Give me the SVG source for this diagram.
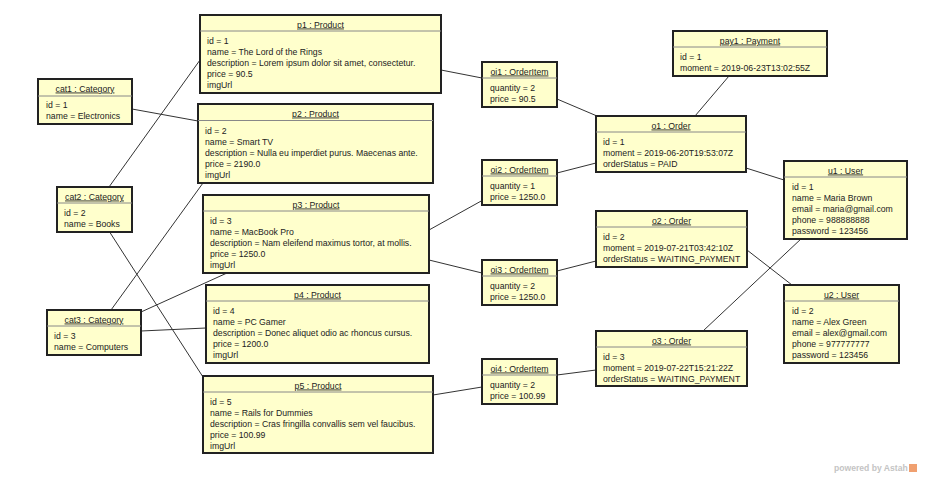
<svg xmlns="http://www.w3.org/2000/svg" width="949" height="493" viewBox="0 0 949 493">
<style>
.box{fill:#FFFFCC;stroke:#222;stroke-width:2}
.sep{stroke:#888;stroke-width:1}
text{font-family:"Liberation Sans",Arial,sans-serif;font-size:8.7px;fill:#222}
.ti{text-anchor:middle;text-decoration:underline}
.ln line{stroke:#333;stroke-width:1}
.pw{font-size:8.6px;font-weight:bold;fill:#c4c4c4}
</style>
<rect width="949" height="493" fill="#fff"/>
<g class="ln" id="connectors">
<line x1="132" y1="109" x2="198" y2="121"/>
<line x1="109" y1="187" x2="200" y2="60"/>
<line x1="109" y1="231" x2="203" y2="377"/>
<line x1="111" y1="310" x2="203" y2="183"/>
<line x1="141" y1="312" x2="227" y2="273"/>
<line x1="141" y1="331" x2="206" y2="328"/>
<line x1="441" y1="70" x2="482" y2="78"/>
<line x1="557" y1="99" x2="597" y2="116"/>
<line x1="729" y1="76" x2="695" y2="116"/>
<line x1="429" y1="230" x2="483" y2="200"/>
<line x1="557" y1="173" x2="596" y2="163"/>
<line x1="429" y1="260" x2="482" y2="273"/>
<line x1="557" y1="271" x2="596" y2="261"/>
<line x1="433" y1="395" x2="482" y2="387"/>
<line x1="557" y1="375" x2="596" y2="370"/>
<line x1="746" y1="168" x2="784" y2="180"/>
<line x1="747" y1="250" x2="792" y2="285"/>
<line x1="703" y1="331" x2="802" y2="238"/>
</g>
<g id="p1"><rect class="box" x="200" y="15" width="241" height="78"/><line class="sep" x1="200" y1="31" x2="441" y2="31"/>
<text class="ti" x="320.5" y="27.5">p1 : Product</text>
<text x="207" y="44">id = 1</text><text x="207" y="55">name = The Lord of the Rings</text><text x="207" y="66">description = Lorem ipsum dolor sit amet, consectetur.</text><text x="207" y="77">price = 90.5</text><text x="207" y="88">imgUrl</text></g>
<g id="p2"><rect class="box" x="198" y="104" width="235" height="79"/><line class="sep" x1="198" y1="120.5" x2="433" y2="120.5"/>
<text class="ti" x="315.5" y="116.5">p2 : Product</text>
<text x="205" y="134">id = 2</text><text x="205" y="145">name = Smart TV</text><text x="205" y="156">description = Nulla eu imperdiet purus. Maecenas ante.</text><text x="205" y="167">price = 2190.0</text><text x="205" y="178">imgUrl</text></g>
<g id="p3"><rect class="box" x="203" y="195" width="226" height="78"/><line class="sep" x1="203" y1="211" x2="429" y2="211"/>
<text class="ti" x="316" y="207.5">p3 : Product</text>
<text x="210" y="224">id = 3</text><text x="210" y="235">name = MacBook Pro</text><text x="210" y="246">description = Nam eleifend maximus tortor, at mollis.</text><text x="210" y="257">price = 1250.0</text><text x="210" y="268">imgUrl</text></g>
<g id="p4"><rect class="box" x="206" y="285" width="223" height="78"/><line class="sep" x1="206" y1="301" x2="429" y2="301"/>
<text class="ti" x="317.5" y="297.5">p4 : Product</text>
<text x="213" y="314">id = 4</text><text x="213" y="325">name = PC Gamer</text><text x="213" y="336">description = Donec aliquet odio ac rhoncus cursus.</text><text x="213" y="347">price = 1200.0</text><text x="213" y="358">imgUrl</text></g>
<g id="p5"><rect class="box" x="203" y="376" width="230" height="77"/><line class="sep" x1="203" y1="392" x2="433" y2="392"/>
<text class="ti" x="318" y="388.5">p5 : Product</text>
<text x="210" y="405">id = 5</text><text x="210" y="416">name = Rails for Dummies</text><text x="210" y="427">description = Cras fringilla convallis sem vel faucibus.</text><text x="210" y="438">price = 100.99</text><text x="210" y="449">imgUrl</text></g>
<g id="cat1"><rect class="box" x="38" y="79" width="94" height="45"/><line class="sep" x1="38" y1="96" x2="132" y2="96"/>
<text class="ti" x="85" y="91.5">cat1 : Category</text>
<text x="46" y="108">id = 1</text><text x="46" y="119">name = Electronics</text></g>
<g id="cat2"><rect class="box" x="57" y="187" width="75" height="45"/><line class="sep" x1="57" y1="203" x2="132" y2="203"/>
<text class="ti" x="94.5" y="199.5">cat2 : Category</text>
<text x="64" y="216">id = 2</text><text x="64" y="227">name = Books</text></g>
<g id="cat3"><rect class="box" x="47" y="310" width="94" height="45"/><line class="sep" x1="47" y1="326" x2="141" y2="326"/>
<text class="ti" x="94" y="322.5">cat3 : Category</text>
<text x="54" y="339">id = 3</text><text x="54" y="350">name = Computers</text></g>
<g id="oi1"><rect class="box" x="482" y="62" width="75" height="45"/><line class="sep" x1="482" y1="78" x2="557" y2="78"/>
<text class="ti" x="519.5" y="74.5">oi1 : OrderItem</text>
<text x="490" y="91">quantity = 2</text><text x="490" y="102">price = 90.5</text></g>
<g id="oi2"><rect class="box" x="482" y="160" width="75" height="45"/><line class="sep" x1="482" y1="176" x2="557" y2="176"/>
<text class="ti" x="519.5" y="172.5">oi2 : OrderItem</text>
<text x="490" y="189">quantity = 1</text><text x="490" y="200">price = 1250.0</text></g>
<g id="oi3"><rect class="box" x="482" y="260" width="75" height="45"/><line class="sep" x1="482" y1="276" x2="557" y2="276"/>
<text class="ti" x="519.5" y="272.5">oi3 : OrderItem</text>
<text x="490" y="289">quantity = 2</text><text x="490" y="300">price = 1250.0</text></g>
<g id="oi4"><rect class="box" x="482" y="359" width="75" height="45"/><line class="sep" x1="482" y1="375" x2="557" y2="375"/>
<text class="ti" x="519.5" y="371.5">oi4 : OrderItem</text>
<text x="490" y="388">quantity = 2</text><text x="490" y="399">price = 100.99</text></g>
<g id="o1"><rect class="box" x="596" y="116" width="150" height="56"/><line class="sep" x1="596" y1="132" x2="746" y2="132"/>
<text class="ti" x="671" y="128.5">o1 : Order</text>
<text x="603" y="145">id = 1</text><text x="603" y="156">moment = 2019-06-20T19:53:07Z</text><text x="603" y="167">orderStatus = PAID</text></g>
<g id="o2"><rect class="box" x="596" y="211" width="151" height="56"/><line class="sep" x1="596" y1="227" x2="747" y2="227"/>
<text class="ti" x="671.5" y="223.5">o2 : Order</text>
<text x="603" y="240">id = 2</text><text x="603" y="251">moment = 2019-07-21T03:42:10Z</text><text x="603" y="262">orderStatus = WAITING_PAYMENT</text></g>
<g id="o3"><rect class="box" x="596" y="331" width="151" height="55"/><line class="sep" x1="596" y1="347" x2="747" y2="347"/>
<text class="ti" x="671.5" y="343.5">o3 : Order</text>
<text x="603" y="360">id = 3</text><text x="603" y="371">moment = 2019-07-22T15:21:22Z</text><text x="603" y="382">orderStatus = WAITING_PAYMENT</text></g>
<g id="pay1"><rect class="box" x="673" y="31" width="154" height="45"/><line class="sep" x1="673" y1="47" x2="827" y2="47"/>
<text class="ti" x="750" y="43.5">pay1 : Payment</text>
<text x="680" y="60">id = 1</text><text x="680" y="71">moment = 2019-06-23T13:02:55Z</text></g>
<g id="u1"><rect class="box" x="784" y="161" width="123" height="78"/><line class="sep" x1="784" y1="177" x2="907" y2="177"/>
<text class="ti" x="845.5" y="173.5">u1 : User</text>
<text x="792" y="190">id = 1</text><text x="792" y="201">name = Maria Brown</text><text x="792" y="212">email = maria@gmail.com</text><text x="792" y="223">phone = 988888888</text><text x="792" y="234">password = 123456</text></g>
<g id="u2"><rect class="box" x="784" y="285" width="115" height="78"/><line class="sep" x1="784" y1="301" x2="899" y2="301"/>
<text class="ti" x="841.5" y="297.5">u2 : User</text>
<text x="792" y="314">id = 2</text><text x="792" y="325">name = Alex Green</text><text x="792" y="336">email = alex@gmail.com</text><text x="792" y="347">phone = 977777777</text><text x="792" y="358">password = 123456</text></g>
<g id="watermark"><text class="pw" x="834" y="471">powered by Astah</text><rect x="909" y="464" width="8" height="8" fill="#f0a070"/></g>
</svg>
